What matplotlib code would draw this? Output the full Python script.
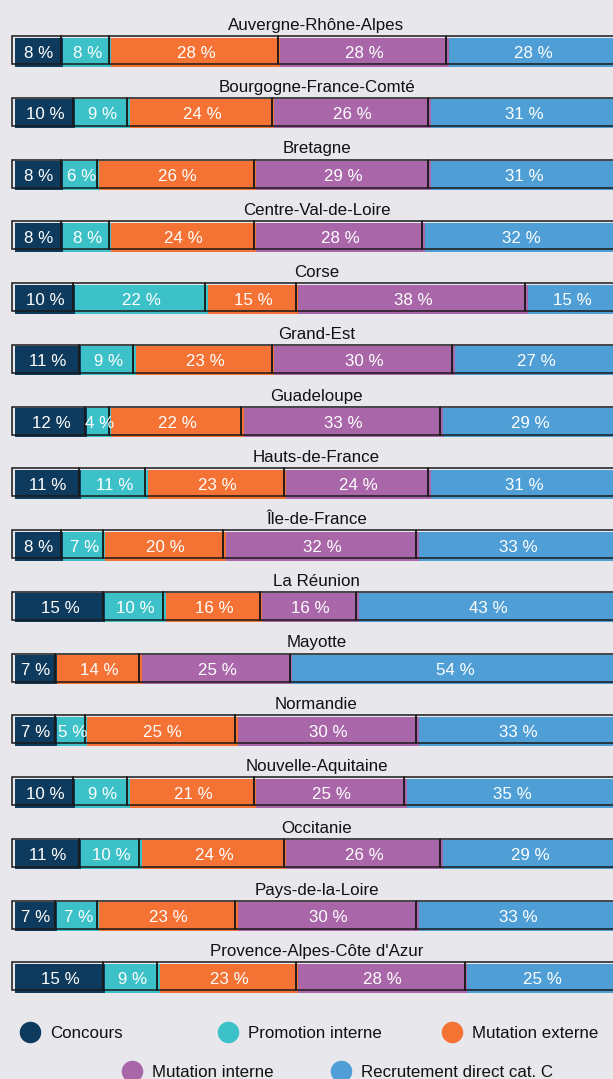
import numpy as np
import matplotlib
matplotlib.use("Agg")
from matplotlib import pyplot as plt
from matplotlib.transforms import ScaledTranslation

plt.rcParams['font.family'] = ['Liberation Sans', 'DejaVu Sans']

# données
regions = ["Auvergne-Rhône-Alpes", "Bourgogne-France-Comté", "Bretagne",
           "Centre-Val-de-Loire", "Corse", "Grand-Est", "Guadeloupe",
           "Hauts-de-France", "Île-de-France", "La Réunion", "Mayotte",
           "Normandie", "Nouvelle-Aquitaine", "Occitanie", "Pays-de-la-Loire",
           "Provence-Alpes-Côte d'Azur"]
concours = [8, 10, 8, 8, 10, 11, 12, 11, 8, 15, 7, 7, 10, 11, 7, 15]
promotion = [8, 9, 6, 8, 22, 9, 4, 11, 7, 10, 0, 5, 9, 10, 7, 9]
mut_externe = [28, 24, 26, 24, 15, 23, 22, 23, 20, 16, 14, 25, 21, 24, 23, 23]
mut_interne = [28, 26, 29, 28, 38, 30, 33, 24, 32, 16, 25, 30, 25, 26, 30, 28]
recrutement = [28, 31, 31, 32, 15, 27, 29, 31, 33, 43, 54, 33, 35, 29, 33, 25]

categories = ["Concours", "Promotion interne", "Mutation externe",
              "Mutation interne", "Recrutement direct cat. C"]
colors = ["#0d3a5d", "#3cc1c9", "#f47233", "#a967a9", "#4f9fd6"]
bg = "#e7e7ec"

series = [concours, promotion, mut_externe, mut_interne, recrutement]

W, H = 613, 1079
fig = plt.figure(figsize=(W / 100, H / 100), dpi=100, facecolor=bg)

# axe des barres : x en %, y en pixels
px_per_pct = 6.03
x0 = 15
ax = fig.add_axes([0, 0, 1, 1])
ax.set_facecolor(bg)
ax.set_xlim(-x0 / px_per_pct, (W - x0) / px_per_pct)
ax.set_ylim(H, 0)
ax.axis('off')

row0 = 52.2
step = 61.75
bar_h = 29
fs = 12.2

outline_tr = ax.transData + ScaledTranslation(-2.7 / 100, 2.2 / 100, fig.dpi_scale_trans)

for i, reg in enumerate(regions):
    yc = row0 + i * step
    left = 0
    for k, s in enumerate(series):
        v = s[i]
        if v == 0:
            continue
        ax.barh(yc, v, left=left, height=bar_h, color=colors[k], linewidth=0)
        b = ax.barh(yc, v, left=left, height=bar_h - 1, fill=False,
                    edgecolor='#1a1a1a', linewidth=1.1)
        for p in b.patches:
            p.set_transform(outline_tr)
        ax.text(left + v / 2, yc + 5.5, f"{v} %", color='white', fontsize=fs,
                ha='center', va='baseline')
        left += v
    ax.text(50, yc - 22.2, reg, color='#111111', fontsize=fs,
            ha='center', va='baseline')

# légende
ax2 = fig.add_axes([0, 0, 1, 1])
ax2.set_xlim(0, W)
ax2.set_ylim(H, 0)
ax2.axis('off')
leg_x = [30, 228, 452, 131.5, 341]
leg_y = [1032, 1032, 1032, 1071, 1071]
for k, cat in enumerate(categories):
    ax2.scatter(leg_x[k], leg_y[k], s=240, color=colors[k], linewidths=0)
    ax2.text(leg_x[k] + 20, leg_y[k] + 6, cat, color='#111111', fontsize=fs,
             ha='left', va='baseline')

fig.savefig("out.png", dpi=100, facecolor=bg)
